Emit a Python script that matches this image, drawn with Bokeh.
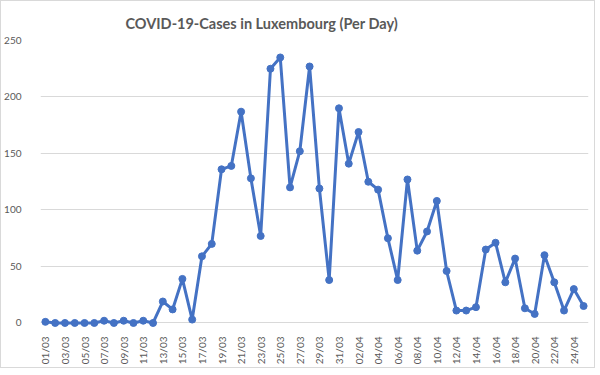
from bokeh.plotting import figure
from bokeh.models import ColumnDataSource, FixedTicker, Range1d
from bokeh.embed import file_html
from bokeh.resources import INLINE
import math

# ---- data ----
march_days = [f"{d:02d}/03" for d in range(1, 32)]
april_days = [f"{d:02d}/04" for d in range(1, 26)]
dates = march_days + april_days

cases = [1, 0, 0, 0, 0, 0, 2, 0, 2, 0, 2, 0,
         19, 12, 39, 3, 59, 70, 136, 139, 187, 128, 77, 225, 235, 120, 152, 227,
         119, 38, 190,
         141, 169, 125, 118, 75, 38, 127, 64, 81, 108, 46, 11, 11, 14, 65, 71,
         36, 57, 13, 8, 60, 36, 11, 30, 15]

title_text = "COVID-19-Cases in Luxembourg (Per Day)"
y_ticks = [0, 50, 100, 150, 200, 250]

idx = list(range(len(dates)))
src = ColumnDataSource(dict(x=idx, y=cases, d=dates))

p = figure(width=582, height=357, output_backend="svg", toolbar_location=None,
           x_range=Range1d(-0.5, len(dates) - 0.5), y_range=Range1d(-4, 250),
           min_border_left=28, min_border_right=6, min_border_top=39, min_border_bottom=31,
           title=title_text)
p.frame_width = 548
p.frame_height = 287
p.styles = {"border": "1px solid #d9d9d9"}
p.outline_line_color = None
p.background_fill_color = "white"
p.border_fill_color = "white"

label_font = "Lato"
p.title.align = "left"
p.title.offset = 85
p.title.text_font = label_font
p.title.text_font_size = "14.5px"
p.title.text_font_style = "bold"
p.title.text_color = "#595959"
p.title.standoff = 18

# x axis
tick_idx = idx[::2]
p.xaxis.ticker = FixedTicker(ticks=tick_idx)
p.xaxis.major_label_overrides = {i: dates[i] for i in tick_idx}
p.xaxis.major_label_orientation = math.pi / 2
p.xaxis.axis_line_color = None
p.xaxis.major_tick_line_color = None
p.xaxis.minor_tick_line_color = None
p.xaxis.major_label_standoff = 3
p.xaxis.major_label_text_font = label_font
p.xaxis.major_label_text_font_size = "10px"
p.xaxis.major_label_text_color = "#595959"
p.xgrid.grid_line_color = None

# y axis
p.yaxis.ticker = FixedTicker(ticks=y_ticks)
p.yaxis.axis_line_color = None
p.yaxis.major_tick_line_color = None
p.yaxis.minor_tick_line_color = None
p.yaxis.major_label_standoff = 13
p.yaxis.major_label_text_font = label_font
p.yaxis.major_label_text_font_size = "10px"
p.yaxis.major_label_text_color = "#595959"
p.ygrid.grid_line_color = "#d9d9d9"
p.ygrid.grid_line_width = 1

p.line("x", "y", source=src, line_color="#4472C4", line_width=3)
p.scatter("x", "y", source=src, size=7, fill_color="#4472C4", line_color="#4472C4")

open("out.html", "w").write(file_html(p, INLINE))
